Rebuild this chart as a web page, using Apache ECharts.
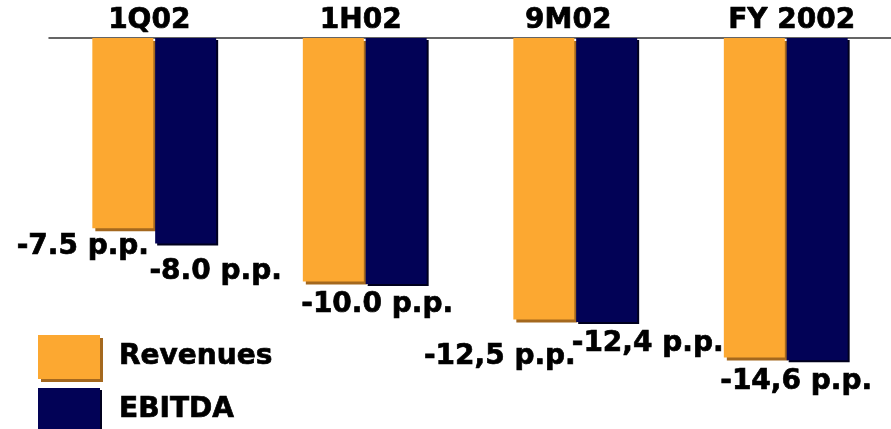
<!DOCTYPE html>
<html>
<head>
<meta charset="utf-8">
<script src="https://cdn.jsdelivr.net/npm/echarts@6/dist/echarts.min.js"></script>
<style>html,body{margin:0;padding:0;background:#fff}#c{width:891px;height:429px}</style>
</head>
<body>
<div id="c"></div>
<script>
// Categories (top axis)
var categories = ['1Q02', '1H02', '9M02', 'FY 2002'];
// Bar depths as drawn in the picture (p.p., drawn downward from the top axis)
var revenues = [7.5, 9.6, 11.1, 12.6];
var ebitda = [8.1, 9.7, 11.2, 12.7];
// Label texts as printed
var revenueLabels = ['-7.5 p.p.', '', '-12,5 p.p.', ''];
var ebitdaLabels = ['-8.0 p.p.', '-10.0 p.p.', '-12,4 p.p.', '-14,6 p.p.'];
var seriesNames = ['Revenues', 'EBITDA'];

// label placement (style)
var revOffsets = [[-40, -1], [0, 0], [-44, 18], [0, 0]];
var ebiOffsets = [[30, 9], [-19, 2], [41, 3], [-21, 3]];
var catShift = [-5, -4, -7, 6];

var FONT = 'DejaVu Sans';
var TXT = {
  fontFamily: FONT, fontWeight: 'bold', fontSize: 28, color: '#000',
  textBorderColor: '#000', textBorderWidth: 0.7,
  textShadowColor: 'rgba(0,0,0,0.22)', textShadowOffsetX: 1, textShadowOffsetY: 1, textShadowBlur: 0
};
var labelStyle = Object.assign({ show: true, position: 'bottom', distance: 5 }, TXT);
function build(vals, labels, offs) {
  return vals.map(function (v, i) {
    return {
      value: v,
      label: Object.assign({}, labelStyle, { formatter: labels[i], offset: offs[i], show: labels[i] !== '' })
    };
  });
}
var revStyle = { color: '#FCA831', shadowColor: '#A4681E', shadowOffsetX: 3, shadowOffsetY: 3, shadowBlur: 0 };
var ebiStyle = { color: '#020256', shadowColor: '#00001E', shadowOffsetX: 2, shadowOffsetY: 2, shadowBlur: 0 };

function legendFor(name, top, style) {
  return {
    orient: 'vertical', left: 33, top: top, icon: 'rect',
    itemWidth: 62, itemHeight: 44,
    itemStyle: style,
    textStyle: Object.assign({}, TXT, { padding: [0, 0, 0, 14] }),
    data: [name]
  };
}

var rich = {};
catShift.forEach(function (s, i) {
  rich['c' + i] = Object.assign({}, TXT, { padding: s < 0 ? [0, -2 * s, 0, 0] : [0, 0, 0, 2 * s] });
});

var chart = echarts.init(document.getElementById('c'));
chart.setOption({
  animation: false,
  backgroundColor: '#fff',
  grid: { left: 49, right: -4, top: 38, bottom: 10.5 },
  legend: [legendFor(seriesNames[0], 330, revStyle), legendFor(seriesNames[1], 383, ebiStyle)],
  xAxis: {
    type: 'category', position: 'top', data: categories,
    axisLine: { show: true, lineStyle: { color: '#333', width: 1.5 } },
    axisTick: { show: false },
    axisLabel: Object.assign({ margin: 3, interval: 0, hideOverlap: false, rich: rich,
      formatter: function (v, i) { return '{c' + i + '|' + v + '}'; } }, TXT)
  },
  yAxis: {
    type: 'value', inverse: true, min: 0, max: 15,
    show: false, splitLine: { show: false }
  },
  series: [
    {
      name: seriesNames[0], type: 'bar', barWidth: 61, barGap: '3%',
      itemStyle: revStyle,
      data: build(revenues, revenueLabels, revOffsets)
    },
    {
      name: seriesNames[1], type: 'bar', barWidth: 61,
      itemStyle: ebiStyle,
      data: build(ebitda, ebitdaLabels, ebiOffsets)
    }
  ]
});
</script>
</body>
</html>
